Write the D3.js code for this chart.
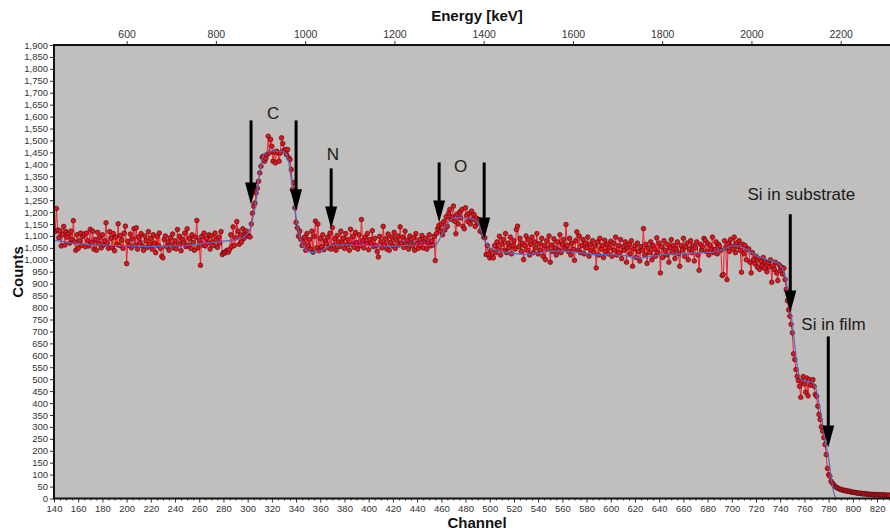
<!DOCTYPE html>
<html>
<head>
<meta charset="utf-8">
<script src="https://cdn.jsdelivr.net/npm/d3@7"></script>
<style>
  html, body { margin: 0; padding: 0; background: #ffffff; }
  svg { display: block; }
  .tick text { font-family: "Liberation Sans Narrow", "Liberation Sans", Arial, sans-serif; fill: #333; }
</style>
</head>
<body>
<svg id="chart" width="890" height="531"></svg>
<script>
// ---------------- DATA ----------------
const startChannel = 140;   // channel of counts[0]; one value per channel
const counts = [
  // 140
  1120, 1118, 1215, 1125, 1092, 1122, 1058, 1105, 1140, 1062,
  1118, 1095, 1110, 1070, 1120, 1085, 1164, 1075, 1040, 1105,
  1048, 1080, 1112, 1060, 1098, 1108, 1055, 1112, 1080, 1058,
  1128, 1072, 1120, 1045, 1085, 1040, 1115, 1068, 1095, 1050,
  1105, 1062, 1080, 1155, 1070, 1048, 1118, 1090, 1052, 1110,
  1038, 1095, 1065, 1151, 1060, 1102, 1082, 1048, 1112, 1141,
  // 200
  984, 1078, 1060, 1108, 1050, 1088, 1130, 1062, 1134, 1045,
  1095, 1072, 1110, 1058, 1040, 1100, 1080, 1052, 1118, 1066,
  1090, 1045, 1105, 1070, 1030, 1098, 1060, 1112, 1048, 1015,
  1008, 1085, 1100, 1055, 1075, 1040, 1092, 1062, 1108, 1050,
  1080, 1046, 1127, 1065, 1098, 1038, 1085, 1070, 1112, 1055,
  1130, 1060, 1090, 1048, 1105, 1072, 1040, 1095, 1165, 1050,
  1080, 977, 1098, 1062, 1112, 1058, 1090, 1070, 1105, 1045,
  1100, 1075, 1060, 1112, 1085, 1052, 1095, 1070, 1118, 1022,
  1030, 1028, 1035, 1040, 1032, 1043, 1105, 1055, 1138, 1060,
  1092, 1160, 1120, 1065, 1105, 1075, 1130, 1090, 1108, 1120,
  // 300
  1105, 1098, 1096, 1150, 1195, 1225, 1238, 1280, 1300, 1329,
  1364, 1392, 1430, 1434, 1413, 1425, 1441, 1518, 1448, 1504,
  1476, 1413, 1451, 1406, 1455, 1448, 1413, 1448, 1511, 1487,
  1459, 1462, 1441, 1462, 1427, 1420, 1378, 1294, 1324, 1218,
  1157, 1134, 1099, 1120, 1085, 1060,
  // 346
  1075, 1095, 1040, 1110, 1060, 1085, 1045, 1120, 1032, 1098,
  1162, 1050, 1150, 1038, 1090, 1055, 1105, 1042, 1080, 1068,
  1095, 1050, 1112, 1045, 1135, 1060, 1088, 1040, 1102, 1075,
  1055, 1120, 1070, 1090, 1048, 1110, 1062, 1085, 1040, 1128,
  1065, 1098, 1052, 1115, 1072, 1045, 1105, 1060, 1169, 1080,
  1050, 1095, 1068, 1110, 1042, 1085, 1070, 1122, 1055, 1090,
  1060, 1035, 1012, 1098, 1075, 1050, 1140, 1065, 1088, 1045,
  1108, 1040, 1072, 1095, 1058, 1115, 1048, 1082, 1100, 1062,
  // 426
  1138, 1070, 1095, 1052, 1120, 1065, 1083, 1045, 1100, 1072,
  1058, 1092, 1040, 1110, 1068, 1048, 1085, 1060, 1102, 1050,
  1078, 1090, 1045, 1070, 1105, 1058, 1080, 1062, 1098, 997,
  1110, 1130, 1144, 1120, 1150, 1105, 1160, 1125, 1180, 1140,
  1195, 1211, 1170, 1180, 1225, 1162, 1109, 1190, 1150, 1200,
  1175, 1211, 1140, 1130, 1218, 1185, 1160, 1195, 1150, 1204,
  1169, 1190, 1140, 1175, 1155, 1169, 1120, 1145, 1113, 1095,
  // 496
  1092, 1022, 1060, 1022, 1008, 1040, 1015, 1008, 1060, 1030,
  1075, 1045, 1099, 1020, 1065, 1085, 1040, 1110, 1030, 1070,
  1050, 1095, 1025, 1060, 1080, 1045, 1127, 1141, 1055, 1090,
  1035, 1070, 1001, 1060, 1100, 1040, 1085, 1020, 1065, 1095,
  1030, 1075, 1050, 1110, 1025, 1068, 1040, 1090, 1015, 1060,
  1001, 1080, 1045, 1100, 990, 1062, 1035, 1088, 1050, 1020,
  1075, 1040, 1105, 1030, 1065, 1085, 1048, 1148, 1060, 1035,
  1090, 1020, 1070, 1045, 998, 1080, 1117, 1040, 1100, 1030,
  1060, 1085, 1025, 1070, 1050, 1095, 1015, 1065, 1040, 1080,
  1030, 1058, 966, 1075, 1020, 1090, 1045, 1060, 1010, 1082,
  // 596
  1035, 1065, 1025, 1050, 1078, 1015, 1070, 1040, 1095, 1020,
  1060, 1030, 1085, 1005, 1055, 1040, 1075, 990, 1050, 1065,
  1025, 1080, 973, 1045, 1060, 1010, 1070, 1035, 995, 1055,
  1040, 1131, 1020, 1065, 985, 1050, 1030, 1075, 1000, 1060,
  1045, 1015, 1092, 1030, 1070, 945, 1055, 1010, 1080, 1040,
  1020, 1065, 990, 1050, 1085, 1030, 1060, 1005, 1045, 1075,
  1025, 973, 1060, 1040, 1090, 1015, 1055, 1070, 1000, 1045,
  1080, 1030, 1060, 995, 1050, 1075, 1020, 956, 1065, 1040,
  1055, 1090, 1082, 1035, 1070, 1020, 1060, 1045, 1095, 1030,
  1043, 1075, 1025, 1065, 1057, 1040, 934, 938, 1080, 1050,
  // 696
  917, 1070, 1035, 1085, 1057, 1045, 1095, 1030, 1070, 1055,
  1080, 1040, 948, 1065, 1025, 1060, 1000, 1045, 1046, 990,
  945, 1030, 1000, 985, 1015, 970, 1005, 960, 995, 975,
  1010, 965, 990, 950, 985, 970, 1000, 906, 975, 960,
  990, 945, 913, 980, 955, 970, 940, 965, 917, 876,
  829, 790, 764, 730, 694, 606, 582, 540, 512, 494,
  470, 424, 490, 511, 480, 445, 505, 430, 498, 475,
  492, 498, 470, 436, 428, 387, 352, 331, 300, 282,
  255, 226, 184, 126, 100, 93, 72, 65, 59, 52,
  48, 45, 42, 40, 38, 36, 35, 33, 34, 31,
  // 796
  30, 31, 28, 27, 26, 26, 25, 24, 22, 23,
  21, 22, 20, 19, 21, 18, 19, 17, 18, 17,
  16, 17, 15, 16, 17, 15, 14, 16, 15, 14,
  15, 14, 14, 13, 14, 13
];

// simulated (fit) spectrum
const fitChannels = [140,150,160,170,180,190,200,210,220,230,240,250,260,270,280,290,295,298,300,302,304,306,308,310,312,314,316,320,325,330,332,334,336,338,340,342,344,347,350,355,360,365,370,380,390,400,410,420,430,440,450,455,458,461,465,469,475,480,486,490,493,496,500,505,510,520,530,540,548,560,570,580,590,600,610,620,625,630,640,650,660,670,680,690,695,700,705,710,715,720,725,730,735,740,743,745,747,749,751,753,755,757,760,765,768,770,772,774,776,778,780,782,784,786];
const fitCounts   = [1082,1075,1068,1064,1062,1060,1058,1057,1056,1057,1058,1061,1066,1072,1078,1085,1092,1100,1110,1130,1170,1215,1290,1370,1420,1445,1452,1455,1455,1452,1440,1405,1340,1255,1180,1120,1080,1050,1035,1030,1036,1050,1062,1063,1061,1060,1058,1057,1060,1062,1060,1062,1080,1115,1150,1172,1178,1176,1172,1160,1120,1080,1050,1040,1035,1027,1023,1028,1036,1036,1032,1027,1022,1022,1018,1010,1008,1012,1020,1024,1025,1028,1030,1038,1048,1058,1060,1050,1035,1018,1008,1000,993,978,950,910,840,770,690,600,530,500,492,490,480,450,400,345,280,220,170,90,30,0];

// tick labels
const channelTicks = [140,160,180,200,220,240,260,280,300,320,340,360,380,400,420,440,460,480,500,520,540,560,580,600,620,640,660,680,700,720,740,760,780,800,820];
const energyTicks  = [600,800,1000,1200,1400,1600,1800,2000,2200];
const countTicks   = [0,50,100,150,200,250,300,350,400,450,500,550,600,650,700,750,800,850,900,950,1000,1050,1100,1150,1200,1250,1300,1350,1400,1450,1500,1550,1600,1650,1700,1750,1800,1850,1900];

// annotations (in channel / counts units)
const labelTexts    = ["C", "N", "O", "Si in substrate", "Si in film"];
const labelChannels = [321, 370.5, 476, 757.5, 784];
const labelCounts   = [1592, 1420, 1370, 1250, 708];
const arrowChannels = [302.8, 340, 369, 458.2, 495.4, 748.3, 779.7];
const arrowTops     = [1584, 1584, 1383, 1408, 1408, 1191, 679];
const arrowTips     = [1232, 1203, 1131, 1156, 1085, 779, 214];

// energy calibration (keV per channel)
const keVAt200 = 600, keVPerChannel = 2.712;

// ---------------- CHART ----------------
const svg = d3.select("#chart");
const L = 54, R = 890, T = 45, B = 498.5;
const chMax = 830.7;
const toKeV = c => keVAt200 + keVPerChannel * (c - 200);

const x = d3.scaleLinear().domain([startChannel, chMax]).range([L, R]);
const xE = d3.scaleLinear().domain([toKeV(startChannel), toKeV(chMax)]).range([L, R]);
const y = d3.scaleLinear().domain([0, 1900]).range([B, T]);

svg.append("rect").attr("x", L).attr("y", T).attr("width", R - L).attr("height", B - T).attr("fill", "#c0bfbd");

svg.append("defs").append("clipPath").attr("id", "clip")
  .append("rect").attr("x", L).attr("y", T).attr("width", R - L).attr("height", B - T);

const plot = svg.append("g").attr("clip-path", "url(#clip)");

const pts = counts.map((v, i) => ({ c: startChannel + i, v }));
const fit = fitChannels.map((c, i) => ({ c, v: fitCounts[i] }));

plot.append("path").datum(pts)
  .attr("fill", "none").attr("stroke", "#f2202c").attr("stroke-width", 1)
  .attr("d", d3.line().x(d => x(d.c)).y(d => y(d.v)));

plot.append("g").selectAll("circle").data(pts).join("circle")
  .attr("cx", d => x(d.c)).attr("cy", d => y(d.v)).attr("r", 2.3)
  .attr("fill", "#e8121c").attr("stroke", "#4a1010").attr("stroke-width", 0.7);

plot.append("path").datum(fit)
  .attr("fill", "none").attr("stroke", "#5868c0").attr("stroke-width", 1.2)
  .attr("d", d3.line().x(d => x(d.c)).y(d => y(d.v)).curve(d3.curveMonotoneX));

// axes
const fmtComma = d3.format(",");
const gL = svg.append("g").attr("transform", `translate(${L},0)`)
  .call(d3.axisLeft(y).tickValues(countTicks).tickSize(4).tickPadding(2).tickFormat(fmtComma));
gL.selectAll("text").attr("font-size", 9.5);

const gB = svg.append("g").attr("transform", `translate(0,${B})`)
  .call(d3.axisBottom(x).tickValues(channelTicks).tickSize(4).tickPadding(3).tickFormat(d3.format("d")));
gB.selectAll("text").attr("font-size", 9.5);

const minorCh = d3.range(145, 831, 5).filter(c => !channelTicks.includes(c));
svg.append("g").attr("transform", `translate(0,${B})`)
  .call(d3.axisBottom(x).tickValues(minorCh).tickSize(2).tickFormat(""));

const gT = svg.append("g").attr("transform", `translate(0,${T})`)
  .call(d3.axisTop(xE).tickValues(energyTicks).tickSize(4).tickPadding(3).tickFormat(d3.format("d")));
gT.selectAll("text").attr("font-size", 10.5);

svg.selectAll(".domain").remove();
svg.selectAll(".tick line").attr("stroke", "#333");

// frame lines
svg.append("line").attr("x1", L).attr("x2", L).attr("y1", T - 1).attr("y2", B + 1).attr("stroke", "#111").attr("stroke-width", 2);
svg.append("line").attr("x1", L).attr("x2", R).attr("y1", T).attr("y2", T).attr("stroke", "#111").attr("stroke-width", 2);
svg.append("line").attr("x1", L).attr("x2", R).attr("y1", B).attr("y2", B).attr("stroke", "#111").attr("stroke-width", 2);

// axis titles
const titleFont = "'Liberation Sans', Arial, sans-serif";
svg.append("text").attr("x", 477).attr("y", 21).attr("text-anchor", "middle")
  .attr("font-family", titleFont).attr("font-weight", "bold").attr("font-size", 15).attr("fill", "#111").text("Energy [keV]");
svg.append("text").attr("x", 477).attr("y", 528).attr("text-anchor", "middle")
  .attr("font-family", titleFont).attr("font-weight", "bold").attr("font-size", 15).attr("fill", "#111").text("Channel");
svg.append("text").attr("transform", "translate(23,272) rotate(-90)").attr("text-anchor", "middle")
  .attr("font-family", titleFont).attr("font-weight", "bold").attr("font-size", 15).attr("fill", "#111").text("Counts");

// arrows
const ann = svg.append("g");
arrowChannels.forEach((c, i) => {
  const ax = x(c), top = y(arrowTops[i]), tip = y(arrowTips[i]);
  ann.append("line").attr("x1", ax).attr("x2", ax).attr("y1", top).attr("y2", tip - 12)
    .attr("stroke", "#000").attr("stroke-width", 3);
  ann.append("path").attr("d", `M${ax - 6},${tip - 22} L${ax + 6},${tip - 22} L${ax},${tip} Z`).attr("fill", "#000");
});
labelTexts.forEach((t, i) => {
  ann.append("text").attr("x", x(labelChannels[i])).attr("y", y(labelCounts[i]))
    .attr("text-anchor", "middle").attr("font-family", titleFont).attr("font-size", 17).attr("fill", "#1a1a1a").text(t);
});
</script>
</body>
</html>
